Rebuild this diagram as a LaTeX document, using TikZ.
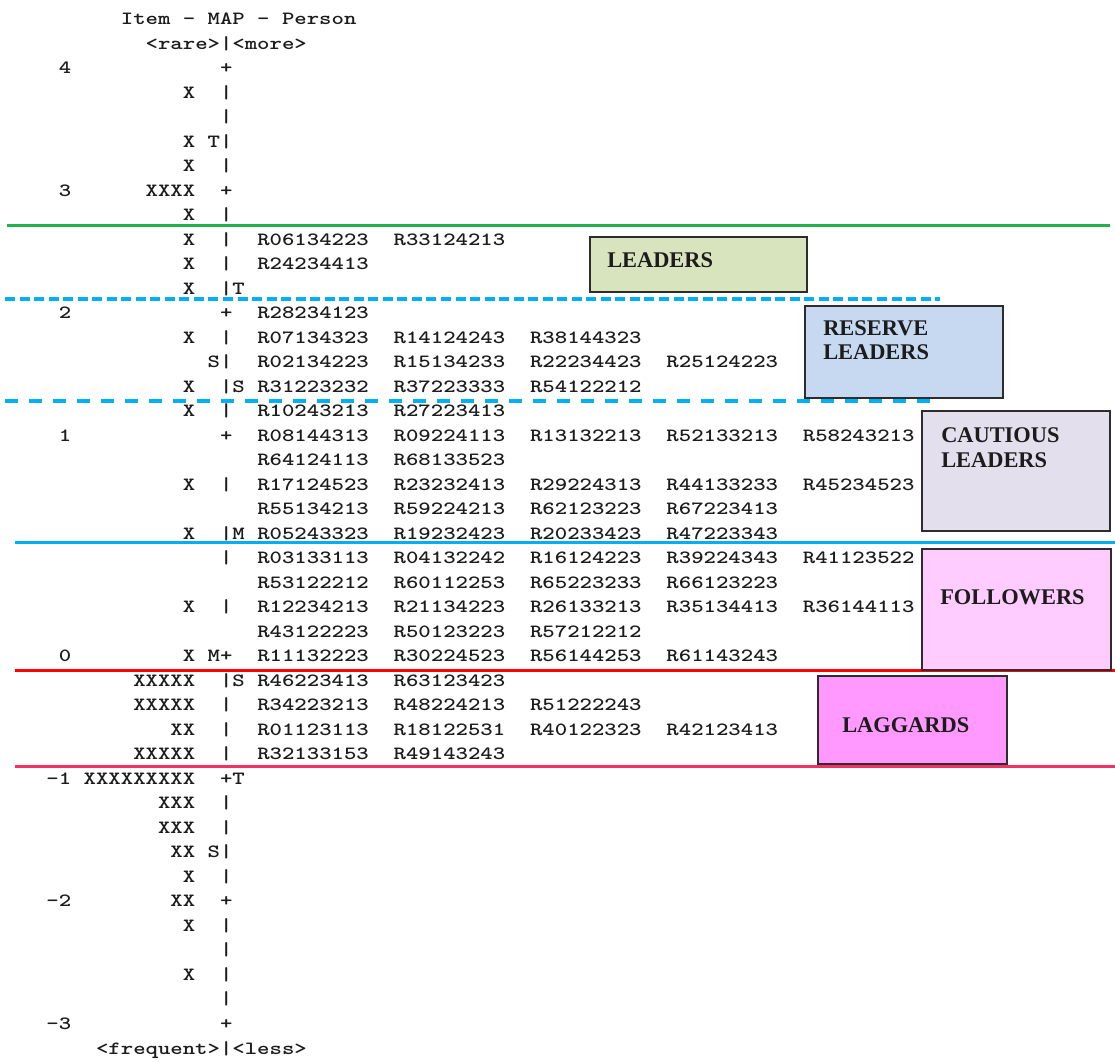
\documentclass[tikz,border=0pt]{standalone}
\usepackage{fontspec}
\newfontfamily\labelfont{Liberation Serif}
\usetikzlibrary{fit}

\definecolor{ink}{RGB}{28,28,28}
\definecolor{sepgreen}{RGB}{34,177,76}
\definecolor{sepblue}{RGB}{0,176,240}
\definecolor{sepred}{RGB}{255,0,0}
\definecolor{sepcrimson}{RGB}{240,50,100}
\definecolor{leadfill}{RGB}{215,228,189}
\definecolor{resfill}{RGB}{198,217,241}
\definecolor{cautfill}{RGB}{228,223,236}
\definecolor{follfill}{RGB}{255,204,255}
\definecolor{lagfill}{RGB}{255,153,255}
\definecolor{boxline}{RGB}{45,45,45}

\tikzset{
  mono/.style={font=\fontsize{14}{14}\selectfont\ttfamily\bfseries, text=ink, inner sep=0pt, anchor=base west},
  catbox/.style={draw=boxline, line width=1.5pt, inner sep=0pt},
  catlabel/.style={font=\fontsize{16.8}{18}\selectfont\labelfont\bfseries, text=ink, inner sep=0pt, anchor=base west},
  sepline/.style={line width=2.25pt},
  dashA/.style={line width=2.5pt, sepblue, dash pattern=on 7.5pt off 3.4pt},
  dashB/.style={line width=2.5pt, sepblue, dash pattern=on 9.75pt off 8.25pt},
}

% one printed line of the map: column (0 = axis) / text
\newcommand\maprow[2]{%
  \foreach \c/\t in {#2}{%
    \node[mono] (m#1c\c) at ({219.8+12.4*(\c)},{73.6+(#1-1)*24.51}) {\scalebox{1.265}[1]{\t}};
  }%
}

\begin{document}
\begin{tikzpicture}[x=0.75pt,y=-0.75pt]
\fill[white] (0,0) rectangle (1115,1063);
\useasboundingbox (0,0) rectangle (1115,1063);

% group separators
\coordinate (gA) at (7,225);    \coordinate (gB) at (1110,225);
\coordinate (dA1) at (5,299);   \coordinate (dA2) at (940,299);
\coordinate (dB1) at (5,401);   \coordinate (dB2) at (940,401);
\coordinate (bA) at (15,542);   \coordinate (bB) at (1115,542);
\coordinate (rA) at (15,670);   \coordinate (rB) at (1115,670);
\coordinate (cA) at (15,766);   \coordinate (cB) at (1115,766);
\draw[sepline, sepgreen] (gA) -- (gB);
\draw[dashA] (dA1) -- (dA2);
\draw[dashB] (dB1) -- (dB2);
\draw[sepline, sepblue] (bA) -- (bB);
\draw[sepline, sepred] (rA) -- (rB);
\draw[sepline, sepcrimson] (cA) -- (cB);

% item-person map
\maprow{-1}{-8/Item - MAP - Person}
\maprow{0}{-6/<rare>|<more>}
\maprow{1}{-13/4, 0/+}
\maprow{2}{-3/X, 0/|}
\maprow{3}{0/|}
\maprow{4}{-3/X, -1/T|}
\maprow{5}{-3/X, 0/|}
\maprow{6}{-13/3, -6/XXXX, 0/+}
\maprow{7}{-3/X, 0/|}
\maprow{8}{-3/X, 0/|, 3/R06134223, 14/R33124213}
\maprow{9}{-3/X, 0/|, 3/R24234413}
\maprow{10}{-3/X, 0/|T}
\maprow{11}{-13/2, 0/+, 3/R28234123}
\maprow{12}{-3/X, 0/|, 3/R07134323, 14/R14124243, 25/R38144323}
\maprow{13}{-1/S|, 3/R02134223, 14/R15134233, 25/R22234423, 36/R25124223}
\maprow{14}{-3/X, 0/|S, 3/R31223232, 14/R37223333, 25/R54122212}
\maprow{15}{-3/X, 0/|, 3/R10243213, 14/R27223413}
\maprow{16}{-13/1, 0/+, 3/R08144313, 14/R09224113, 25/R13132213, 36/R52133213, 47/R58243213}
\maprow{17}{3/R64124113, 14/R68133523}
\maprow{18}{-3/X, 0/|, 3/R17124523, 14/R23232413, 25/R29224313, 36/R44133233, 47/R45234523}
\maprow{19}{3/R55134213, 14/R59224213, 25/R62123223, 36/R67223413}
\maprow{20}{-3/X, 0/|M, 3/R05243323, 14/R19232423, 25/R20233423, 36/R47223343}
\maprow{21}{0/|, 3/R03133113, 14/R04132242, 25/R16124223, 36/R39224343, 47/R41123522}
\maprow{22}{3/R53122212, 14/R60112253, 25/R65223233, 36/R66123223}
\maprow{23}{-3/X, 0/|, 3/R12234213, 14/R21134223, 25/R26133213, 36/R35134413, 47/R36144113}
\maprow{24}{3/R43122223, 14/R50123223, 25/R57212212}
\maprow{25}{-13/0, -3/X, -1/M+, 3/R11132223, 14/R30224523, 25/R56144253, 36/R61143243}
\maprow{26}{-7/XXXXX, 0/|S, 3/R46223413, 14/R63123423}
\maprow{27}{-7/XXXXX, 0/|, 3/R34223213, 14/R48224213, 25/R51222243}
\maprow{28}{-4/XX, 0/|, 3/R01123113, 14/R18122531, 25/R40122323, 36/R42123413}
\maprow{29}{-7/XXXXX, 0/|, 3/R32133153, 14/R49143243}
\maprow{30}{-14/-1, -11/XXXXXXXXX, 0/+T}
\maprow{31}{-5/XXX, 0/|}
\maprow{32}{-5/XXX, 0/|}
\maprow{33}{-4/XX, -1/S|}
\maprow{34}{-3/X, 0/|}
\maprow{35}{-14/-2, -4/XX, 0/+}
\maprow{36}{-3/X, 0/|}
\maprow{37}{0/|}
\maprow{38}{-3/X, 0/|}
\maprow{39}{0/|}
\maprow{40}{-14/-3, 0/+}
\maprow{41}{-10/<frequent>|<less>}

% category boxes
\node[catbox, fill=leadfill, fit={(590,237) (807,292)}] (leaders) {};
\node[catbox, fill=resfill, fit={(805,306) (1003,398)}] (reserve) {};
\node[catbox, fill=cautfill, fit={(922,411) (1110,531)}] (cautious) {};
\node[catbox, fill=follfill, fit={(922,549) (1111,670)}] (followers) {};
\node[catbox, fill=lagfill, fit={(818,676) (1007,764)}] (laggards) {};

\node[catlabel] (leadersT) at (607,267) {LEADERS};
\node[catlabel] (reserveT1) at (823,335) {RESERVE};
\node[catlabel] (reserveT2) at (823,359) {LEADERS};
\node[catlabel] (cautiousT1) at (941,442) {CAUTIOUS};
\node[catlabel] (cautiousT2) at (941,467) {LEADERS};
\node[catlabel] (followersT) at (940,604) {FOLLOWERS};
\node[catlabel] (laggardsT) at (842,732) {LAGGARDS};
\end{tikzpicture}
\end{document}
